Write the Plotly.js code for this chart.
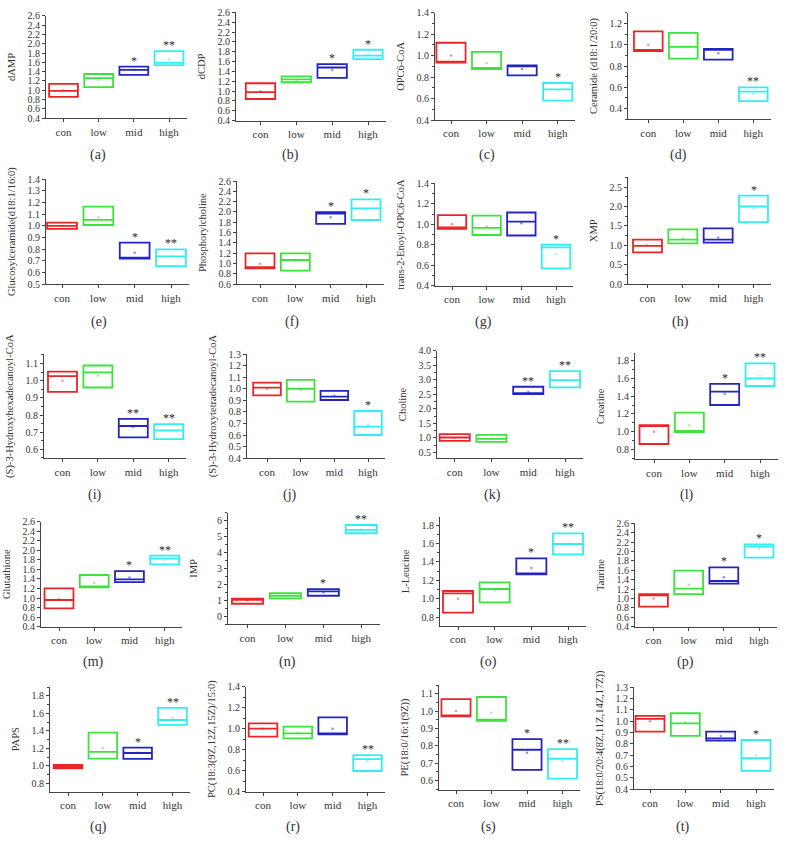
<!DOCTYPE html>
<html><head><meta charset="utf-8">
<script src="https://cdn.plot.ly/plotly-3.0.1.min.js"></script>
<style>html,body{margin:0;padding:0;background:#fff}#chart{width:786px;height:854px}</style>
</head><body><div id="chart"></div>
<script>
// ---------------- DATA ----------------
const groups = ['con', 'low', 'mid', 'high'];
const panelLabels = ['(a)','(b)','(c)','(d)','(e)','(f)','(g)','(h)','(i)','(j)','(k)','(l)','(m)','(n)','(o)','(p)','(q)','(r)','(s)','(t)'];
const metabolites = ['dAMP','dCDP','OPC6-CoA','Ceramide (d18:1/20:0)','Glucosylceramide(d18:1/16:0)','Phosphorylcholine','trans-2-Enoyl-OPC6-CoA','XMP','(S)-3-Hydroxyhexadecanoyl-CoA','(S)-3-Hydroxytetradecanoyl-CoA','Choline','Creatine','Glutathione','IMP','L-Leucine','Taurine','PAPS','PC(18:3(9Z,12Z,15Z)/15:0)','PE(18:0/16:1(9Z))','PS(18:0/20:4(8Z,11Z,14Z,17Z))'];

const q1Values = [
  [0.86,1.07,1.33,1.54],[0.84,1.18,1.27,1.65],[0.935,0.875,0.815,0.58],[0.94,0.87,0.86,0.47],
  [0.973,1.007,0.719,0.656],[0.91,0.865,1.77,1.845],[0.955,0.895,0.89,0.57],[0.82,1.05,1.07,1.60],
  [0.935,0.96,0.67,0.66],[0.943,0.889,0.903,0.601],[0.90,0.866,2.51,2.74],[0.86,0.996,1.302,1.517],
  [0.784,1.224,1.336,1.706],[0.79,1.125,1.29,5.21],[0.85,0.962,1.266,1.482],[0.826,1.095,1.315,1.869],
  [0.972,1.082,1.079,1.468],[0.924,0.908,0.946,0.597],[0.969,0.944,0.661,0.61],[0.909,0.871,0.829,0.562]
];
const medianValues = [
  [0.99,1.26,1.44,1.59],[0.98,1.24,1.48,1.72],[0.94,0.885,0.905,0.685],[0.95,0.98,0.953,0.56],
  [1.0,1.05,0.722,0.739],[0.93,1.07,1.97,2.07],[0.97,0.965,1.025,0.775],[0.99,1.15,1.15,2.0],
  [1.026,1.048,0.736,0.71],[1.01,1.0,0.932,0.673],[1.015,0.97,2.52,2.99],[1.07,1.005,1.453,1.604],
  [0.959,1.23,1.392,1.825],[1.04,1.29,1.56,5.42],[1.06,1.107,1.27,1.594],[1.067,1.209,1.372,2.103],
  [0.99,1.159,1.147,1.525],[1.0,0.956,0.95,0.711],[0.973,0.95,0.777,0.725],[1.021,0.982,0.85,0.674]
];
const q3Values = [
  [1.14,1.35,1.51,1.84],[1.16,1.30,1.55,1.84],[1.12,1.035,0.91,0.745],[1.125,1.11,0.96,0.60],
  [1.027,1.164,0.856,0.799],[1.2,1.2,1.995,2.245],[1.09,1.085,1.115,0.80],[1.15,1.41,1.435,2.28],
  [1.052,1.088,0.778,0.747],[1.053,1.076,0.981,0.808],[1.13,1.107,2.76,3.30],[1.075,1.215,1.54,1.774],
  [1.203,1.483,1.566,1.888],[1.104,1.458,1.708,5.73],[1.085,1.179,1.439,1.71],[1.095,1.592,1.663,2.153],
  [1.01,1.38,1.208,1.663],[1.051,1.019,1.108,0.749],[1.069,1.081,0.838,0.781],[1.047,1.071,0.909,0.835]
];
const meanValues = [
  [1.0,1.22,1.44,1.66],[1.0,1.23,1.43,1.74],[1.0,0.93,0.875,0.68],[1.0,0.98,0.92,0.54],
  [1.0,1.07,0.77,0.74],[1.0,1.05,1.9,2.05],[1.0,0.98,1.01,0.71],[1.0,1.18,1.2,1.95],
  [1.0,1.03,0.73,0.71],[1.0,0.99,0.94,0.69],[1.0,0.97,2.58,2.98],[1.0,1.07,1.43,1.63],
  [0.98,1.32,1.43,1.8],[1.0,1.28,1.5,5.45],[1.0,1.09,1.335,1.6],[1.0,1.29,1.45,2.06],
  [0.99,1.2,1.15,1.55],[1.0,0.96,1.0,0.69],[1.0,0.99,0.76,0.71],[1.0,0.99,0.87,0.7]
];
const starLabels = [
  ['','','*','**'],['','','*','*'],['','','','*'],['','','','**'],
  ['','','*','**'],['','','*','*'],['','','','*'],['','','','*'],
  ['','','**','**'],['','','','*'],['','','**','**'],['','','*','**'],
  ['','','*','**'],['','','*','**'],['','','*','**'],['','','*','*'],
  ['','','*','**'],['','','','**'],['','','*','**'],['','','','*']
];
const yTickStep = [0.2,0.2,0.2,0.2,0.1,0.2,0.2,0.5,0.1,0.1,0.5,0.2,0.2,1,0.2,0.2,0.2,0.2,0.1,0.1];
const yRanges = [
  [0.4,2.6],[0.4,2.6],[0.4,1.4],[0.3,1.3],[0.5,1.4],[0.6,2.6],[0.4,1.4],[0,2.75],
  [0.548,1.155],[0.4,1.3],[0.3,4.0],[0.687,1.887],[0.4,2.6],[-0.5,6.5],[0.706,1.89],[0.4,2.6],
  [0.704,1.906],[0.4,1.4],[0.545,1.15],[0.4,1.3]
];

// ---------------- STYLE / LAYOUT POSITIONS (pixels) ----------------
const groupColors = ['#e8262a', '#3ee23e', '#2424c4', '#33eef0'];
// [axis x, con centre x, high centre x, top y, bottom y, minor tick step]
const panelPx = [
  [46,63.5,169,15.7,118.3,null],[236,260.5,368,12.3,120.7,null],[435,451,557.7,12.7,120,0.1],[628,648.3,753.3,12.7,119.3,0.1],
  [46,62,171,179,284.3,null],[237,260,366,181,284.3,null],[435,452,556,183.3,285.7,0.1],[628,647.5,753.5,177.3,284.3,0.25],
  [44,62.5,168.7,354,458.3,0.05],[247,267,368,354,458.3,null],[437,454.7,565,350.7,458.3,0.25],[635,654,760,353.3,459.3,0.1],
  [41,59,164.7,521.7,626.7,null],[228,247.5,361.3,512.7,624.3,0.5],[440,458,568,516.7,626,0.1],[635,653.5,759,523.3,626.7,null],
  [50,68,172.5,686.7,791.7,0.1],[246,263,367.5,686.7,791.7,0.1],[439,456,562.5,685,790,0.05],[634,650,756,687.3,789.3,null]
];
const labelPx = [
  [98,155],[290,155],[487,155],[678,155],
  [99,322],[292,322],[483,322],[680,322],
  [95,495],[290,495],[492,495],[687,495],
  [93,662],[287,662],[488,662],[685,662],
  [99,827],[293,827],[488,827],[683,827]
];

const W = 786, H = 854;
const serif = 'Liberation Serif, Times New Roman, serif';
const axisColor = '#444';

const data = [];
const layout = {
  width: W, height: H,
  margin: {l:0, r:0, t:0, b:0},
  paper_bgcolor: '#fff', plot_bgcolor: 'rgba(0,0,0,0)',
  showlegend: false,
  boxmode: 'overlay',
  annotations: [],
  font: {family: serif, color: '#333'}
};

for (let p = 0; p < 20; p++) {
  const n = p + 1;
  const xa = 'x' + (n === 1 ? '' : n), ya = 'y' + (n === 1 ? '' : n);
  const xk = 'xaxis' + (n === 1 ? '' : n), yk = 'yaxis' + (n === 1 ? '' : n);
  const [axX, conC, highC, topY, botY, minorStep] = panelPx[p];
  const sp = (highC - conC) / 3;
  const xlo = -(conC - axX) / sp;
  const rightPx = highC + 0.5 * sp;

  for (let g = 0; g < 4; g++) {
    data.push({
      type: 'box', xaxis: xa, yaxis: ya,
      x: [groups[g]],
      q1: [q1Values[p][g]], median: [medianValues[p][g]], q3: [q3Values[p][g]],
      lowerfence: [q1Values[p][g]], upperfence: [q3Values[p][g]],
      width: 0.82, whiskerwidth: 0,
      fillcolor: 'rgba(0,0,0,0)',
      line: {color: groupColors[g], width: 1.8},
      hoverinfo: 'skip'
    });
    if (starLabels[p][g]) {
      layout.annotations.push({
        xref: xa, yref: ya, x: groups[g], y: q3Values[p][g],
        text: starLabels[p][g], showarrow: false,
        yanchor: 'bottom', yshift: -3,
        font: {family: serif, size: 12, color: '#2a2a2a'}
      });
    }
  }
  data.push({
    type: 'scatter', mode: 'markers', xaxis: xa, yaxis: ya,
    x: groups, y: meanValues[p],
    marker: {size: 2.5, color: groupColors, opacity: 0.5},
    hoverinfo: 'skip'
  });

  layout[xk] = {
    domain: [axX / W, rightPx / W],
    anchor: ya,
    type: 'category', categoryarray: groups,
    range: [xlo, 3.5],
    showline: true, linecolor: axisColor, linewidth: 1,
    ticks: 'outside', ticklen: 3, tickcolor: axisColor,
    showgrid: false, zeroline: false, automargin: false,
    tickfont: {family: serif, size: 11, color: '#333'}
  };
  const ya_obj = {
    domain: [1 - botY / H, 1 - topY / H],
    anchor: xa,
    range: yRanges[p],
    dtick: yTickStep[p], tick0: 0,
    tickformat: yTickStep[p] >= 1 ? '.0f' : '.1f',
    showline: true, linecolor: axisColor, linewidth: 1,
    ticks: 'outside', ticklen: 3, tickcolor: axisColor,
    showgrid: false, zeroline: false, automargin: false,
    tickfont: {family: serif, size: 10, color: '#333'},
    title: {text: metabolites[p], font: {family: serif, size: 10.5, color: '#333'}}
  };
  if (minorStep) ya_obj.minor = {dtick: minorStep, ticks: 'outside', ticklen: 2, tickcolor: axisColor, showgrid: false};
  layout[yk] = ya_obj;

  layout.annotations.push({
    xref: 'paper', yref: 'paper',
    x: labelPx[p][0] / W, y: 1 - labelPx[p][1] / H,
    text: panelLabels[p], showarrow: false,
    xanchor: 'center', yanchor: 'middle',
    font: {family: serif, size: 14, color: '#333'}
  });
}

Plotly.newPlot('chart', data, layout, {staticPlot: true, displayModeBar: false});
</script>
</body></html>
